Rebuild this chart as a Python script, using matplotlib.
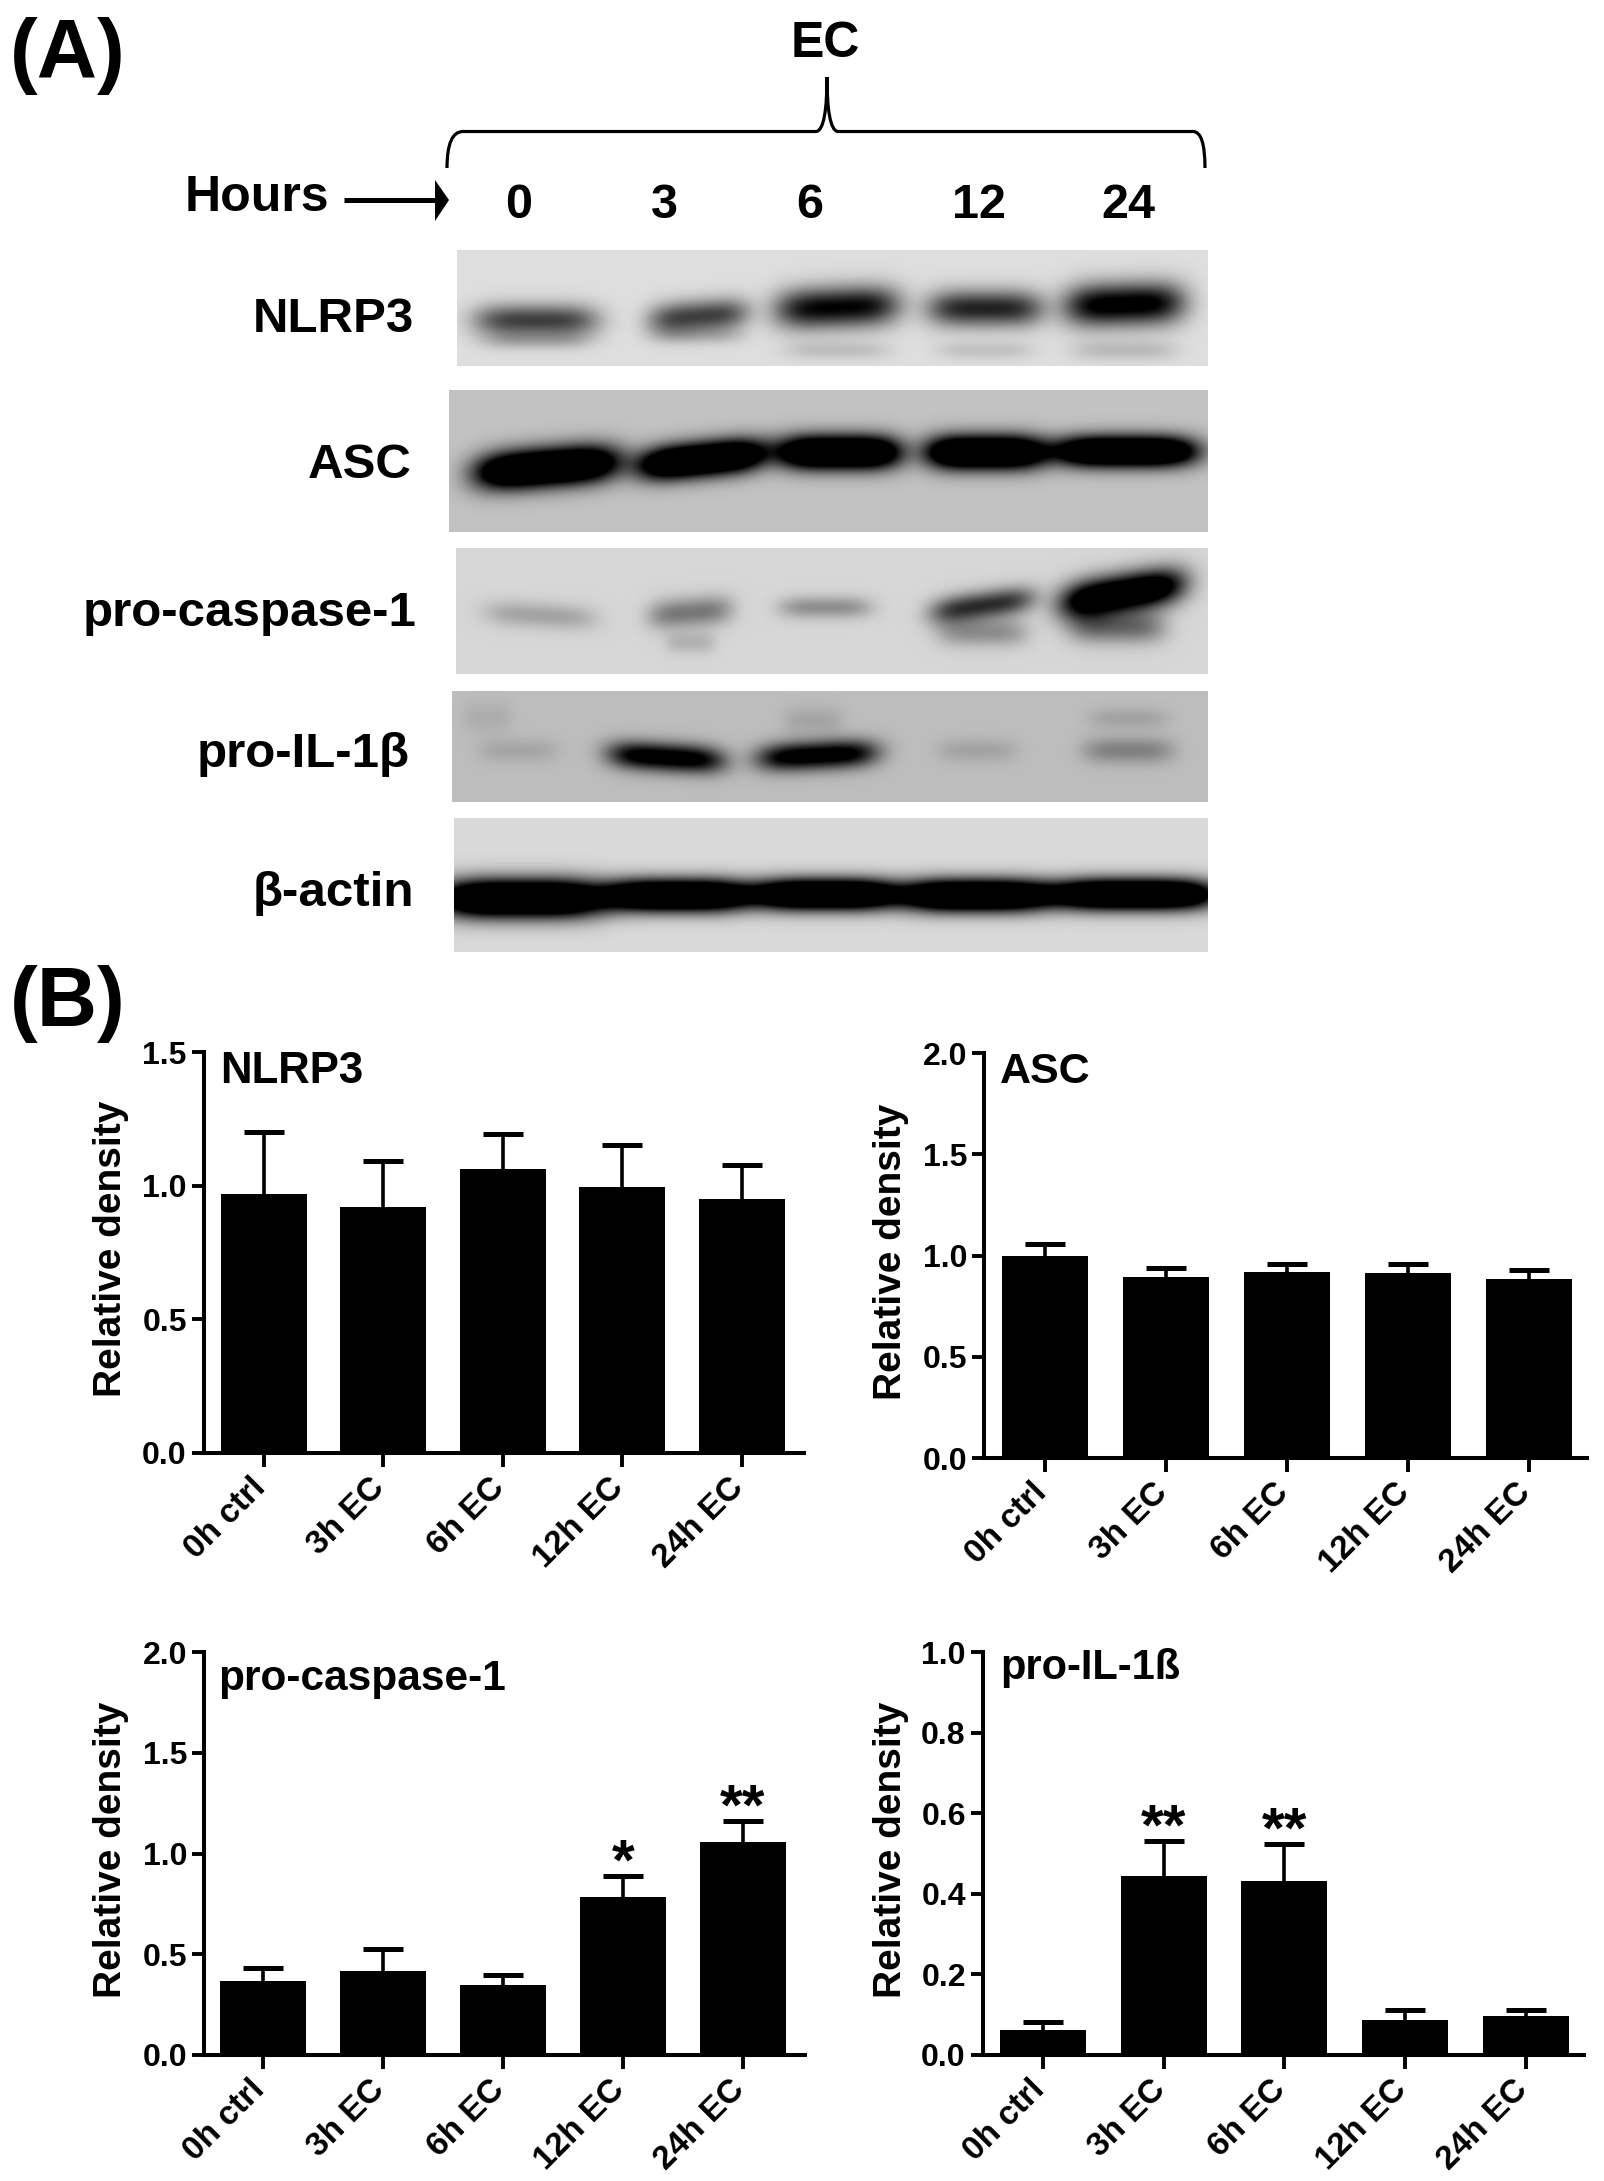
import numpy as np
import matplotlib
matplotlib.use("Agg")
import matplotlib.pyplot as plt
from matplotlib.path import Path
from matplotlib.patches import PathPatch, Polygon
from matplotlib.transforms import ScaledTranslation

plt.rcParams['font.family'] = ['Liberation Sans', 'DejaVu Sans']
plt.rcParams['font.weight'] = 'bold'
plt.rcParams['axes.labelweight'] = 'bold'

W, H = 1604, 2181

# ---------------- bar chart data ----------------
groups = ["0h ctrl", "3h EC", "6h EC", "12h EC", "24h EC"]

nlrp3_vals = [0.968, 0.922, 1.064, 0.995, 0.952]
nlrp3_tops = [1.200, 1.094, 1.193, 1.153, 1.078]
asc_vals = [0.996, 0.895, 0.920, 0.914, 0.886]
asc_tops = [1.056, 0.937, 0.958, 0.958, 0.928]
casp_vals = [0.370, 0.418, 0.350, 0.786, 1.058]
casp_tops = [0.432, 0.528, 0.396, 0.891, 1.164]
il1b_vals = [0.061, 0.444, 0.433, 0.086, 0.097]
il1b_tops = [0.083, 0.532, 0.523, 0.111, 0.111]

casp_stars = ["", "", "", "*", "**"]
il1b_stars = ["", "**", "**", "", ""]

hours = ["0", "3", "6", "12", "24"]
hour_x = [519, 664, 810, 979, 1128]

# ---------------- blot bands: centre x, centre y, half width, half height, strength, tilt ----------------
nlrp3_bands = [(536, 320, 62, 16, 0.72, 0), (698, 316, 50, 16, 0.72, -0.08), (837, 307, 62, 20, 1.0, -0.04),
               (985, 308, 58, 18, 0.85, 0), (1124, 304, 60, 21, 1.1, -0.03), (536, 340, 55, 9, 0.18, 0),
               (698, 335, 45, 9, 0.15, 0), (837, 350, 52, 9, 0.14, 0), (985, 350, 48, 9, 0.13, 0),
               (1124, 350, 52, 10, 0.16, 0)]
asc_bands = [(547, 467, 72, 19, 1.9, -0.08), (702, 459, 64, 17, 1.9, -0.1), (839, 452, 62, 17, 1.9, 0),
             (985, 452, 60, 17, 1.9, 0), (1125, 451, 72, 15.5, 1.9, 0)]
casp_bands = [(540, 615, 56, 13, 0.24, 0.06), (690, 612, 42, 15, 0.45, -0.08), (690, 642, 25, 11, 0.17, 0),
              (825, 607, 46, 11, 0.34, 0), (982, 605, 52, 14, 0.8, -0.14), (982, 632, 45, 14, 0.34, 0),
              (1122, 593, 62, 19, 1.5, -0.16), (1117, 627, 48, 16, 0.5, 0)]
il1b_bands = [(518, 750, 40, 12, 0.13, 0), (666, 757, 58, 14, 1.2, 0.06), (817, 755, 60, 14, 1.2, -0.05),
              (977, 750, 40, 12, 0.14, 0), (1128, 750, 45, 13, 0.33, 0), (813, 720, 30, 14, 0.13, 0),
              (1128, 718, 40, 11, 0.14, 0), (487, 717, 25, 16, 0.09, 0)]
actin_bands = [(522, 898, 85, 19, 1.9, 0), (678, 895, 71, 16, 1.9, 0), (825, 894, 74, 15.5, 1.9, 0),
               (975, 895, 73, 16, 1.9, 0), (1132, 894, 84, 15.5, 1.9, 0)]

# ---------------- layout in pixels ----------------
blots = [
    ("NLRP3", 457, 250, 366, 0.87, nlrp3_bands, 414, 332, 35.5),
    ("ASC", 449, 390, 532, 0.76, asc_bands, 412, 478, 35.5),
    ("pro-caspase-1", 456, 548, 674, 0.84, casp_bands, 417, 626, 35.5),
    ("pro-IL-1β", 452, 691, 802, 0.74, il1b_bands, 410, 767, 35.5),
    ("β-actin", 454, 818, 952, 0.85, actin_bands, 414, 906, 35.5),
]
blot_right = 1208

panels = [
    ("NLRP3", nlrp3_vals, nlrp3_tops, None, (203.5, 804, 1052.3, 1453), 263.6, 119.6, [0, 0.5, 1.0, 1.5], 1.5, 129, (220, 1083), 31.5),
    ("ASC", asc_vals, asc_tops, None, (984, 1587, 1053.3, 1458), 1045, 121, [0, 0.5, 1.0, 1.5, 2.0], 2.0, 909, (1000, 1083), 31),
    ("pro-caspase-1", casp_vals, casp_tops, casp_stars, (204, 805, 1652.3, 2055), 263, 120, [0, 0.5, 1.0, 1.5, 2.0], 2.0, 129, (218, 1690), 30.5),
    ("pro-IL-1ß", il1b_vals, il1b_tops, il1b_stars, (982.5, 1584, 1652.3, 2055), 1043, 120.7, [0, 0.2, 0.4, 0.6, 0.8, 1.0], 1.0, 909, (1000, 1679), 30),
]


def blot_image(x0, x1, y0, y1, bg, bands):
    X, Y = np.meshgrid(np.arange(x0, x1), np.arange(y0, y1))
    dark = np.zeros(X.shape)
    for cx, cy, hw, hh, s, tilt in bands:
        yc = cy + tilt * (X - cx)
        dark += s * np.exp(-((X - cx) / hw) ** 4 - ((Y - yc) / hh) ** 2)
    return bg * (1 - np.clip(dark, 0, 1))


fig = plt.figure(figsize=(W / 100, H / 100), dpi=100, facecolor="white")

# overlay in pixel coordinates for panel A and the text labels
ov = fig.add_axes([0, 0, 1, 1])
ov.axis("off")

for name, x0, y0, y1, bg, bands, lx, ly, fs in blots:
    img = blot_image(x0, blot_right, y0, y1, bg, bands)
    ov.imshow(img, cmap="gray", vmin=0, vmax=1, extent=(x0, blot_right, y1, y0), aspect="auto")
    ov.text(lx, ly, name, ha="right", va="baseline", fontsize=fs)

ov.set_xlim(0, W)
ov.set_ylim(H, 0)

ov.text(10, 78, "(A)", fontsize=60, va="baseline")
ov.text(10, 1026, "(B)", fontsize=60, va="baseline")
ov.text(825, 57, "EC", fontsize=36, ha="center", va="baseline")
ov.text(185, 211, "Hours", fontsize=36, va="baseline")
for h, x in zip(hours, hour_x):
    ov.text(x, 218, h, fontsize=35, ha="center", va="baseline")

# brace
codes = [Path.MOVETO, Path.CURVE3, Path.CURVE3, Path.LINETO, Path.CURVE4, Path.CURVE4, Path.CURVE4,
         Path.CURVE4, Path.CURVE4, Path.CURVE4, Path.LINETO, Path.CURVE3, Path.CURVE3]
verts = [(447, 168), (447, 131.5), (463, 131.5), (816, 131.5), (824, 131), (827, 108), (827, 77),
         (827, 108), (830, 131), (838, 131.5), (1193, 131.5), (1205, 131.5), (1205, 168)]
ov.add_patch(PathPatch(Path(verts, codes), fill=False, lw=2.3, ec="black"))

# arrow after Hours
ov.plot([344, 438], [200, 200], color="black", lw=3.6, solid_capstyle="butt")
ov.add_patch(Polygon([(435, 180), (449, 200), (435, 221)], closed=True, fc="black", ec="none"))

# ---------------- bar panels ----------------
for title, vals, tops, stars, box, c0, sp, yticks, ymax, lab_x, tpos, tsize in panels:
    left, right, top, bottom = box
    ax = fig.add_axes([left / W, 1 - bottom / H, (right - left) / W, (bottom - top) / H])
    ax.patch.set_alpha(0)
    x = np.arange(len(groups))
    ax.bar(x, vals, width=86 / sp, color="black")
    ax.vlines(x, vals, tops, color="black", lw=2.6)
    ax.plot(x, tops, ls="none", marker="_", ms=29, mew=3.6, color="black", clip_on=False)
    ax.set_xlim((left - c0) / sp, (right - c0) / sp)
    ax.set_ylim(0, ymax)
    ax.set_xticks(x)
    ax.set_xticklabels(groups, rotation=45, ha="right", va="top", rotation_mode="anchor", fontsize=24)
    ax.set_yticks(yticks)
    ax.set_yticklabels(["%.1f" % t for t in yticks], fontsize=23)
    ax.tick_params(axis="x", length=10, width=2.8, pad=6)
    ax.tick_params(axis="y", length=8.5, width=2.8, pad=3.5)
    # tick labels sit further left than the default anchor (after tick_params, which resets transforms)
    shift = ScaledTranslation(-14 / 100, 3 / 100, fig.dpi_scale_trans)
    for lab in ax.get_xticklabels():
        lab.set_transform(lab.get_transform() + shift)
    for s in ["top", "right"]:
        ax.spines[s].set_visible(False)
    for s in ["left", "bottom"]:
        ax.spines[s].set_linewidth(2.9)
    ax.set_ylabel("Relative density", fontsize=28, va="bottom")
    ax.yaxis.set_label_coords((lab_x - left) / (right - left), 0.51)
    if stars:
        for xi, t, s in zip(x, tops, stars):
            if s:
                ax.annotate(s, (xi, t), xytext=(0, -2.5), textcoords="offset points",
                            ha="center", va="baseline", fontsize=42)
    ov.text(tpos[0], tpos[1], title, fontsize=tsize, va="baseline")

fig.savefig("out.png", dpi=100)
